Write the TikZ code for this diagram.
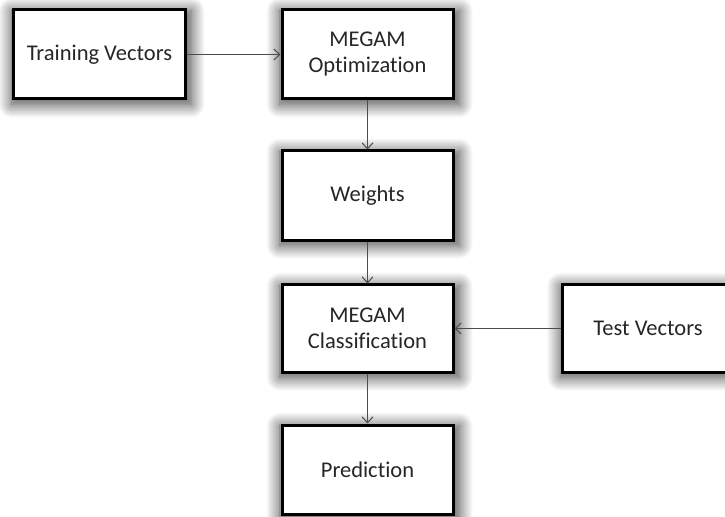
\documentclass[tikz,border=0pt]{standalone}
\usepackage{fontspec}
\setmainfont[Ligatures=NoCommon]{Carlito}
\usetikzlibrary{shadows.blur,arrows.meta}
\tikzset{
  box/.style={draw=black, line width=3bp, fill=white, minimum width=171bp, minimum height=89bp,
    inner sep=0pt, align=center, text=black!85, font=\fontsize{22.5bp}{26bp}\selectfont,
    blur shadow={shadow xshift=2bp, shadow yshift=-3bp, shadow blur radius=13bp, shadow blur steps=20, shadow opacity=75, shadow scale=1.05}},
  conn/.style={draw=black!70, line width=1bp, -{Straight Barb[length=6bp,width=11bp,line width=1bp]}}
}
\begin{document}
\begin{tikzpicture}[x=1bp,y=-1bp]
\useasboundingbox (0,0) rectangle (725,517);
\clip (0,0) rectangle (725,517);
\node[box] (train) at (99.5,54.5) {Training Vectors};
\node[box] (opt) at (367.5,54.5) {MEGAM\\Optimization};
\node[box] (w) at (367.5,195.5) {Weights};
\node[box, minimum height=87bp] (cls) at (367.5,328.5) {MEGAM\\Classification};
\node[box, minimum height=87bp] (test) at (648,328.5) {Test Vectors};
\node[box] (pred) at (367.5,469.5) {Prediction};
\draw[conn] (train) -- (opt);
\draw[conn] (opt) -- (w);
\draw[conn] (w) -- (cls);
\draw[conn] (test) -- (cls);
\draw[conn] (cls) -- (pred);
\end{tikzpicture}
\end{document}
